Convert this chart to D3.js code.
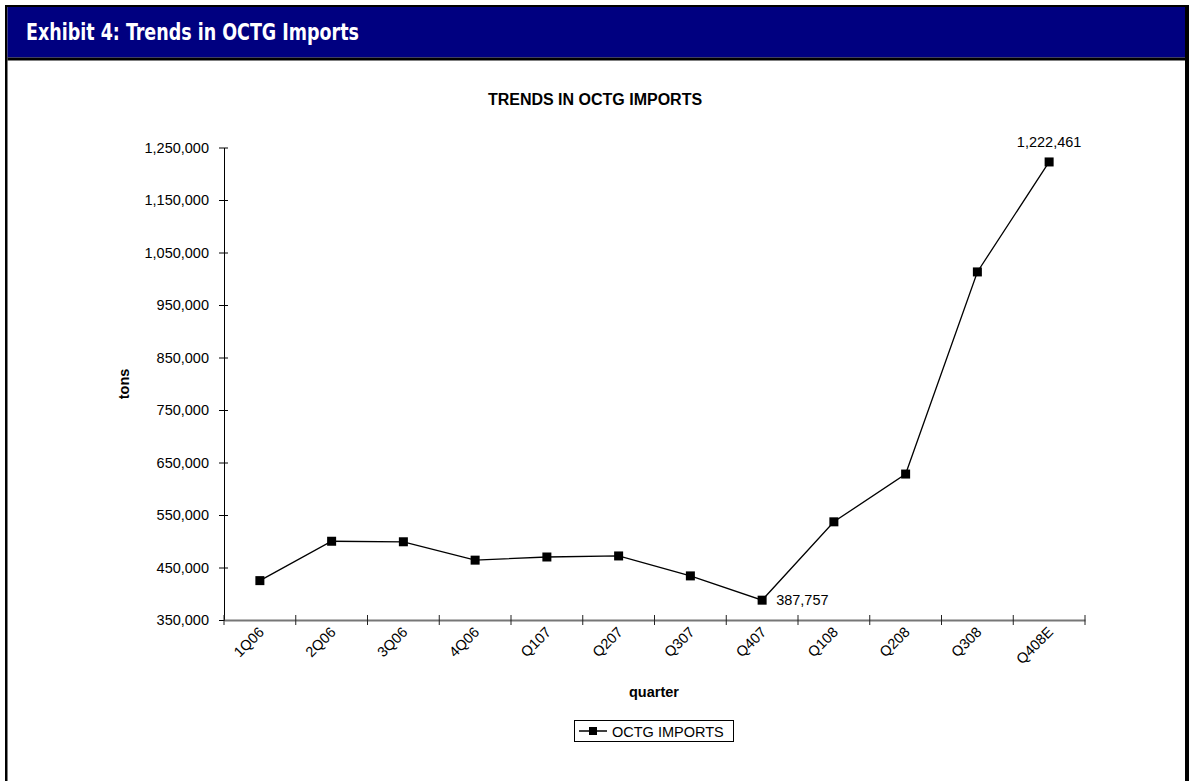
<!DOCTYPE html>
<html>
<head>
<meta charset="utf-8">
<script src="https://cdn.jsdelivr.net/npm/d3@7"></script>
<style>
  body { margin: 0; background: #fff; }
  svg { display: block; font-family: "Liberation Sans", Arial, sans-serif; }
</style>
</head>
<body>
<div id="container"></div>
<script>
var quarters = ["1Q06", "2Q06", "3Q06", "4Q06", "Q107", "Q207", "Q307", "Q407", "Q108", "Q208", "Q308", "Q408E"];
var imports = [425000, 500000, 499000, 464000, 470000, 472000, 434000, 387757, 537000, 628000, 1013000, 1222461];
var yTicks = [350000, 450000, 550000, 650000, 750000, 850000, 950000, 1050000, 1150000, 1250000];
// which points carry a value label, and where
var labelled = [{ i: 7, pos: "right" }, { i: 11, pos: "top" }];

var W = 1189, H = 781;
var fs = '14.5px';
var svg = d3.select('#container').append('svg')
  .attr('width', W).attr('height', H);

// frame + header
svg.append('rect').attr('x', 5).attr('y', 5).attr('width', W - 5).attr('height', H).attr('fill', '#000');
svg.append('rect').attr('x', 7.5).attr('y', 7).attr('width', 1185 - 7.5).attr('height', H).attr('fill', '#fff');
svg.append('rect').attr('x', 7.5).attr('y', 7).attr('width', 1185 - 7.5).attr('height', 50.5).attr('fill', '#000080');
svg.append('rect').attr('x', 7.5).attr('y', 57.5).attr('width', 1185 - 7.5).attr('height', 3).attr('fill', '#000');
svg.append('text')
  .attr('x', 26).attr('y', 39.5)
  .attr('fill', '#fff')
  .attr('textLength', 333).attr('lengthAdjust', 'spacingAndGlyphs')
  .style('font-family', '"DejaVu Sans Condensed", "Liberation Sans Narrow", sans-serif')
  .style('font-weight', 'bold')
  .style('font-size', '23px')
  .text('Exhibit 4: Trends in OCTG Imports');

var x = d3.scaleBand().domain(quarters).range([224, 1085]);
var y = d3.scaleLinear().domain([350000, 1250000]).range([620, 147.5]);

svg.append('text')
  .attr('x', 595).attr('y', 105)
  .attr('text-anchor', 'middle')
  .style('font-weight', 'bold').style('font-size', '16px')
  .text('TRENDS IN OCTG IMPORTS');

// y axis
var yAxis = svg.append('g')
  .attr('transform', 'translate(224,0)')
  .call(d3.axisLeft(y).tickValues(yTicks).tickSize(5).tickSizeOuter(0).tickFormat(d3.format(',')));
yAxis.select('.domain').attr('stroke', '#000');
yAxis.selectAll('.tick line').attr('x2', -5).attr('x1', 4).attr('stroke', '#000');
yAxis.selectAll('.tick text').attr('x', -15).style('font-size', fs).style('font-family', '"Liberation Sans", Arial, sans-serif').attr('fill', '#000');

// x axis
var xAxis = svg.append('g')
  .attr('transform', 'translate(0,620)')
  .call(d3.axisBottom(x).tickSize(0).tickSizeOuter(0));
xAxis.select('.domain').attr('stroke', '#777').attr('stroke-width', 2);
xAxis.selectAll('.tick text').remove();

var bounds = x.domain().map(function(d) { return x(d); }).concat([x.range()[1]]);
xAxis.selectAll('line.edge').data(bounds).enter().append('line')
  .attr('class', 'edge')
  .attr('x1', function(d) { return d; }).attr('x2', function(d) { return d; })
  .attr('y1', -5).attr('y2', 5)
  .attr('stroke', '#222');

svg.append('g').selectAll('text').data(quarters).enter().append('text')
  .attr('text-anchor', 'end')
  .attr('transform', function(d) {
    return 'translate(' + (x(d) + x.bandwidth() / 2 + 5) + ',633) rotate(-45)';
  })
  .style('font-size', fs)
  .text(function(d) { return d; });

svg.append('text')
  .attr('x', 654).attr('y', 697)
  .attr('text-anchor', 'middle')
  .style('font-weight', 'bold').style('font-size', fs)
  .text('quarter');

svg.append('text')
  .attr('transform', 'translate(129,384) rotate(-90)')
  .attr('text-anchor', 'middle')
  .style('font-weight', 'bold').style('font-size', fs)
  .text('tons');

// series
var cx = function(i) { return x(quarters[i]) + x.bandwidth() / 2; };
var line = d3.line()
  .x(function(d, i) { return cx(i); })
  .y(function(d) { return y(d); });

svg.append('path')
  .datum(imports)
  .attr('d', line)
  .attr('fill', 'none')
  .attr('stroke', '#000')
  .attr('stroke-width', 1.3);

svg.append('g').selectAll('rect').data(imports).enter().append('rect')
  .attr('x', function(d, i) { return cx(i) - 4.5; })
  .attr('y', function(d) { return y(d) - 4.5; })
  .attr('width', 9).attr('height', 9)
  .attr('fill', '#000');

svg.append('g').selectAll('text').data(labelled).enter().append('text')
  .attr('x', function(d) { return d.pos === 'right' ? cx(d.i) + 14 : cx(d.i); })
  .attr('y', function(d) { return d.pos === 'right' ? y(imports[d.i]) + 5 : y(imports[d.i]) - 15; })
  .attr('text-anchor', function(d) { return d.pos === 'right' ? 'start' : 'middle'; })
  .style('font-size', fs)
  .text(function(d) { return d3.format(',')(imports[d.i]); });

// legend
var lg = svg.append('g').attr('transform', 'translate(574,720)');
lg.append('rect').attr('x', 0.5).attr('y', 0.5).attr('width', 159).attr('height', 21)
  .attr('fill', '#fff').attr('stroke', '#000');
lg.append('line').attr('x1', 5).attr('x2', 33).attr('y1', 11).attr('y2', 11).attr('stroke', '#000').attr('stroke-width', 1.5);
lg.append('rect').attr('x', 15).attr('y', 7).attr('width', 8).attr('height', 8).attr('fill', '#000');
lg.append('text').attr('x', 38).attr('y', 16.5).style('font-size', fs).text('OCTG IMPORTS');
</script>
</body>
</html>
